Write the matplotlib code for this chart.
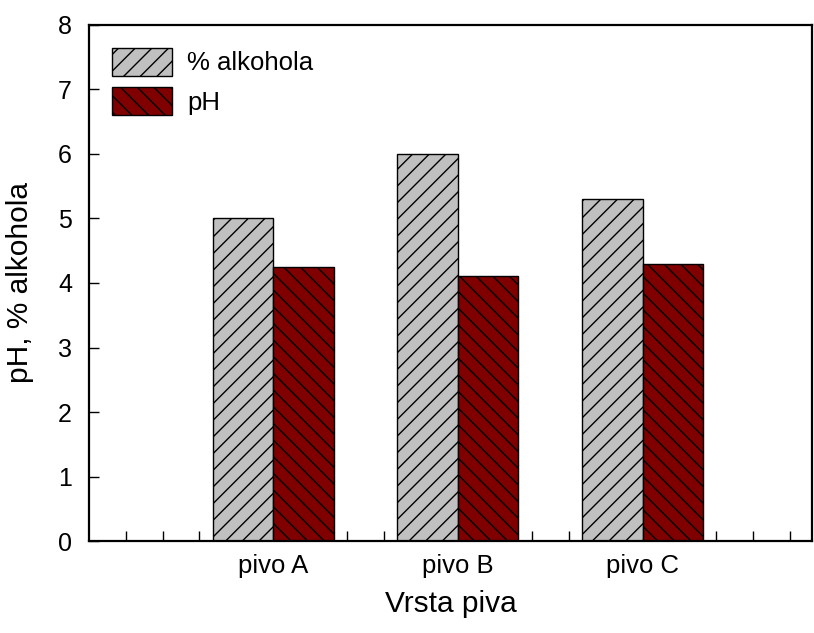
import numpy as np
from matplotlib import pyplot as plt
from matplotlib.ticker import FixedLocator

plt.rcParams['font.family'] = ['Liberation Sans', 'DejaVu Sans']
plt.rcParams['hatch.linewidth'] = 1.0
plt.rcParams['hatch.color'] = 'black'

# data
kategorije = ["pivo A", "pivo B", "pivo C"]
alkohol = [5.0, 6.0, 5.3]
ph = [4.25, 4.1, 4.3]

pos = np.array([5, 10, 15])  # group centres on the tick grid
w = 1.64

fig = plt.figure(figsize=(8.14, 6.33), dpi=100)
ax = fig.add_axes([0.109, 0.145, 0.889, 0.816])
ax.set_axisbelow(True)

ax.bar(pos - w/2, alkohol, w, color='#c0c0c0', edgecolor='black', linewidth=1.0,
       hatch='//', label='% alkohola', zorder=2)
ax.bar(pos + w/2, ph, w, color='#800000', edgecolor='black', linewidth=1.0,
       hatch='\\\\', label='pH', zorder=2)

ax.set_xlim(0, 19.6)
ax.set_ylim(0, 8)
ax.set_xticks(pos)
ax.set_xticklabels(kategorije, fontsize=18.5)
ax.xaxis.set_minor_locator(FixedLocator(np.arange(1, 20)))
ax.tick_params(axis='x', which='major', length=0, pad=9)
ax.tick_params(axis='x', which='minor', direction='in', length=7, width=1)
ax.set_yticks(np.arange(0, 9))
ax.tick_params(axis='y', direction='in', length=7, width=1, labelsize=18, pad=12)

for s in ax.spines.values():
    s.set_linewidth(1.6)

ax.set_xlabel("Vrsta piva", fontsize=21.5, labelpad=9)
ax.set_ylabel("pH, % alkohola", fontsize=21.5, labelpad=17)

ax.legend(loc='upper left', frameon=False, fontsize=18.5, handlelength=2.33,
          handleheight=1.3, borderaxespad=0.5, labelspacing=0.45, handletextpad=0.6,
          bbox_to_anchor=(0.0, 1.0))

plt.savefig("out.png", dpi=100)
